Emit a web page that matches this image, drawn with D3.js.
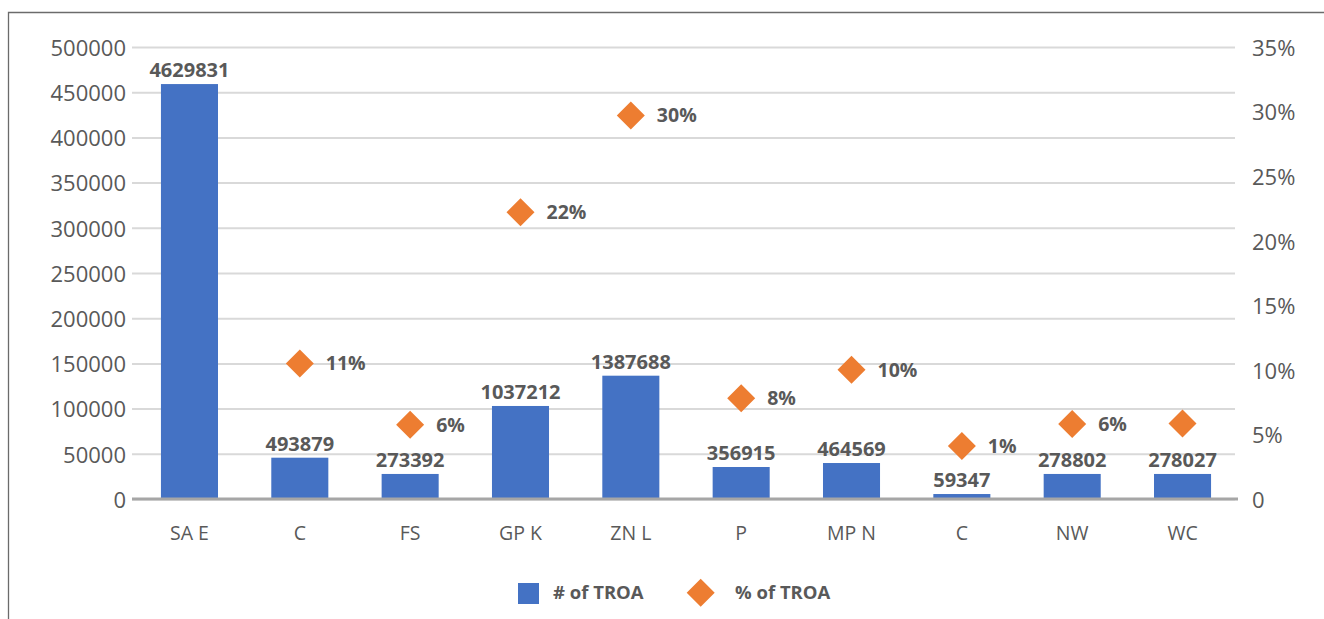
<!DOCTYPE html>
<html>
<head>
<meta charset="utf-8">
<script src="https://cdn.jsdelivr.net/npm/d3@7"></script>
<style>
  body { margin: 0; background: #fff; }
  svg { display: block; font-family: "Open Sans", sans-serif; }
</style>
</head>
<body>
<script>
// categories and values
const categories = ["SA E", "C", "FS", "GP K", "ZN L", "P", "MP N", "C ", "NW", "WC"];
const categoryLabels = ["SA E", "C", "FS", "GP K", "ZN L", "P", "MP N", "C", "NW", "WC"];
const barValues = [459000, 45700, 27700, 102900, 136400, 35400, 39800, 5500, 27700, 27700];
const barLabels = ["4629831", "493879", "273392", "1037212", "1387688", "356915", "464569", "59347", "278802", "278027"];
const pctValues = [null, 0.105, 0.0575, 0.222, 0.297, 0.078, 0.100, 0.041, 0.058, 0.0585];
const pctLabels = [null, "11%", "6%", "22%", "30%", "8%", "10%", "1%", "6%", ""];
const leftTicks = [0, 50000, 100000, 150000, 200000, 250000, 300000, 350000, 400000, 450000, 500000];
const rightTicks = [0, 0.05, 0.10, 0.15, 0.20, 0.25, 0.30, 0.35];
const seriesNames = ["# of TROA", "% of TROA"];

const width = 1324;
const height = 619;
const BLUE = "#4472C4";
const ORANGE = "#ED7D31";
const TEXT = "#595959";

const svg = d3.select("body").append("svg")
  .attr("width", width)
  .attr("height", height);

// frame (only top and left edges visible)
svg.append("path")
  .attr("d", `M8.5,${height} V12.5 H${width}`)
  .attr("fill", "none")
  .attr("stroke", "#6b6b6b")
  .attr("stroke-width", 1.3);

const x = d3.scaleBand()
  .domain(categories)
  .range([134.3, 1237.7])
  .paddingInner(0.483)
  .paddingOuter(0.2415);

const y = d3.scaleLinear().domain([0, 500000]).range([499, 47]);
const y2 = d3.scaleLinear().domain([0, 0.35]).range([499, 47]);

// left axis + gridlines
const gridLeft = 132, gridRight = 1235;
const leftAxis = svg.append("g")
  .attr("transform", `translate(${gridLeft},0)`)
  .call(d3.axisLeft(y).tickValues(leftTicks).tickSize(-(gridRight - gridLeft)).tickPadding(6).tickFormat(d3.format("d")))
  .attr("font-family", null)
  .attr("font-size", 22);
leftAxis.select(".domain").remove();
leftAxis.selectAll(".tick line").attr("stroke", "#d9d9d9").attr("stroke-width", 2);
leftAxis.selectAll(".tick text")
  .attr("fill", TEXT)
  .attr("dy", "0.38em");

// right axis
const rightAxis = svg.append("g")
  .attr("transform", "translate(1238,0)")
  .call(d3.axisRight(y2).tickValues(rightTicks).tickSize(0).tickPadding(14)
    .tickFormat(d => d === 0 ? "0" : Math.round(d * 100) + "%"))
  .attr("font-family", null)
  .attr("font-size", 22);
rightAxis.select(".domain").remove();
rightAxis.selectAll(".tick text")
  .attr("fill", TEXT)
  .attr("dy", "0.38em");

// bars
svg.append("g")
  .selectAll("rect")
  .data(categories)
  .join("rect")
  .attr("x", d => x(d))
  .attr("width", x.bandwidth())
  .attr("y", (d, i) => y(barValues[i]))
  .attr("height", (d, i) => y(0) - y(barValues[i]))
  .attr("fill", BLUE);

// bottom axis
const bottomAxis = svg.append("g")
  .attr("transform", `translate(0,${y(0)})`)
  .call(d3.axisBottom(x).tickSize(0).tickPadding(27).tickFormat((d, i) => categoryLabels[i]))
  .attr("font-family", null)
  .attr("font-size", 19.5);
bottomAxis.select(".domain")
  .attr("d", `M${gridLeft},0H1238`)
  .attr("stroke", "#a6a6a6")
  .attr("stroke-width", 3);
bottomAxis.selectAll(".tick text")
  .attr("fill", TEXT);

// bar labels
svg.append("g")
  .selectAll("text")
  .data(categories)
  .join("text")
  .attr("x", d => x(d) + x.bandwidth() / 2)
  .attr("y", (d, i) => y(barValues[i]) - 7)
  .attr("text-anchor", "middle")
  .attr("fill", TEXT)
  .style("font-size", "20px")
  .style("font-weight", "bold")
  .text((d, i) => barLabels[i]);

// diamonds
const diamond = d3.symbol().type(d3.symbolSquare).size(392);
const pts = categories.map((c, i) => ({ c, v: pctValues[i], label: pctLabels[i] }))
  .filter(d => d.v !== null);

svg.append("g")
  .selectAll("path")
  .data(pts)
  .join("path")
  .attr("d", diamond)
  .attr("transform", d => `translate(${x(d.c) + x.bandwidth() / 2},${y2(d.v)}) rotate(45)`)
  .attr("fill", ORANGE);

svg.append("g")
  .selectAll("text")
  .data(pts)
  .join("text")
  .attr("x", d => x(d.c) + x.bandwidth() / 2 + 26)
  .attr("y", d => y2(d.v))
  .attr("dy", "0.36em")
  .attr("fill", TEXT)
  .style("font-size", "19.5px")
  .style("font-weight", "bold")
  .text(d => d.label);

// legend
const legend = svg.append("g");
legend.append("rect")
  .attr("x", 518).attr("y", 583)
  .attr("width", 21).attr("height", 21)
  .attr("fill", BLUE);
legend.append("text")
  .attr("x", 553).attr("y", 599)
  .attr("fill", TEXT)
  .style("font-size", "18.5px")
  .style("font-weight", "bold")
  .text(seriesNames[0]);
legend.append("path")
  .attr("d", diamond)
  .attr("transform", "translate(700.7,592.7) rotate(45)")
  .attr("fill", ORANGE);
legend.append("text")
  .attr("x", 735).attr("y", 599)
  .attr("fill", TEXT)
  .style("font-size", "18.5px")
  .style("font-weight", "bold")
  .text(seriesNames[1]);
</script>
</body>
</html>
